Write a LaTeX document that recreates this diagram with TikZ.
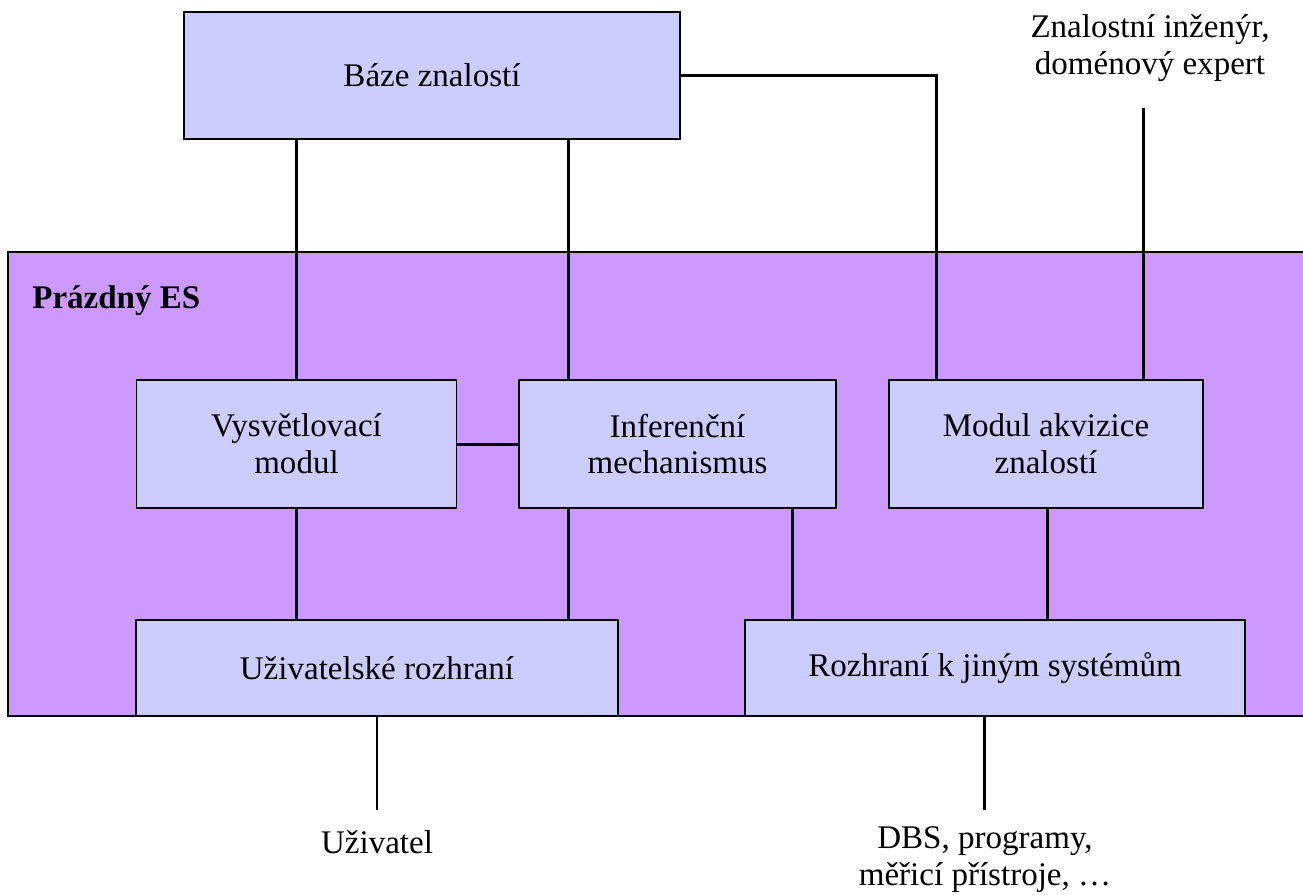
\documentclass[tikz,border=0pt]{standalone}
\usepackage{fontspec}
\setmainfont{Liberation Serif}
\definecolor{boxfill}{HTML}{CCCCFF}
\definecolor{shellfill}{HTML}{CC99FF}
\tikzset{
  modbox/.style={draw=black, line width=1.1pt, fill=boxfill, align=center,
    inner sep=0pt, font=\fontsize{18.8}{21}\selectfont},
  link/.style={line width=1.7pt},
  plain/.style={align=center, inner sep=0pt, font=\fontsize{18.8}{21}\selectfont}
}
\begin{document}
\begin{tikzpicture}[x=0.02cm,y=-0.02cm]
  \useasboundingbox (0,0) rectangle (1303,894);
  \clip (0,0) rectangle (1303,894);

  % the empty shell
  \draw[fill=shellfill, line width=0.8pt] (8,252) rectangle (1330,716);
  \node[anchor=base west, inner sep=0pt, font=\fontsize{18.8}{21}\selectfont\bfseries]
    (shell) at (32,308) {Prázdný ES};

  % modules
  \node[modbox, minimum width=9.92cm, minimum height=2.54cm] (baze) at (432,75.5) {Báze znalostí};
  \node[modbox, minimum width=6.4cm, minimum height=2.56cm] (vysv) at (296.5,444) {Vysvětlovací\\modul};
  \node[modbox, minimum width=6.34cm, minimum height=2.56cm] (infer) at (677.5,444) {Inferenční\\mechanismus};
  \node[modbox, minimum width=6.28cm, minimum height=2.56cm] (akviz) at (1046,444) {Modul akvizice\\znalostí};
  \node[modbox, minimum width=9.64cm, minimum height=1.92cm] (uziv) at (377,668) {Uživatelské rozhraní};
  \node[modbox, minimum width=10cm, minimum height=1.92cm] (jine) at (995,668) {Rozhraní k jiným systémům};

  % outside actors
  \node[plain] (expert) at (1150,48) {Znalostní inženýr,\\doménový expert};
  \node[plain] (user) at (377,842) {Uživatel};
  \node[plain] (dbs) at (985,860) {DBS, programy,\\měřicí přístroje, …};

  % attachment points
  \coordinate (i1) at ([xshift=1cm]infer.north west);
  \coordinate (i2) at ([xshift=5.48cm]infer.south west);
  \coordinate (a1) at ([xshift=0.96cm]akviz.north west);
  \coordinate (a2) at ([xshift=5.1cm]akviz.north west);
  \coordinate (a3) at ([xshift=3.18cm]akviz.south west);
  \coordinate (e1) at (a2 |- 0,108);
  \coordinate (u1) at (uziv.south |- 0,810);
  \coordinate (j1) at ([xshift=4.8cm]jine.south west);
  \coordinate (j2) at (j1 |- 0,810);

  % connections
  \draw[link] (vysv.north) -- (vysv.north |- baze.south);
  \draw[link] (i1) -- (i1 |- baze.south);
  \draw[link] (baze.east) -| (a1);
  \draw[link] (a2) -- (e1);
  \draw[link] (vysv.east) -- (infer.west);
  \draw[link] (vysv.south) -- (vysv.south |- uziv.north);
  \draw[link] ([xshift=1cm]infer.south west) -- ([xshift=1cm]infer.south west |- uziv.north);
  \draw[link] (i2) -- (i2 |- jine.north);
  \draw[link] (a3) -- (a3 |- jine.north);
  \draw[link] (uziv.south) -- (u1);
  \draw[link] (j1) -- (j2);
\end{tikzpicture}
\end{document}
